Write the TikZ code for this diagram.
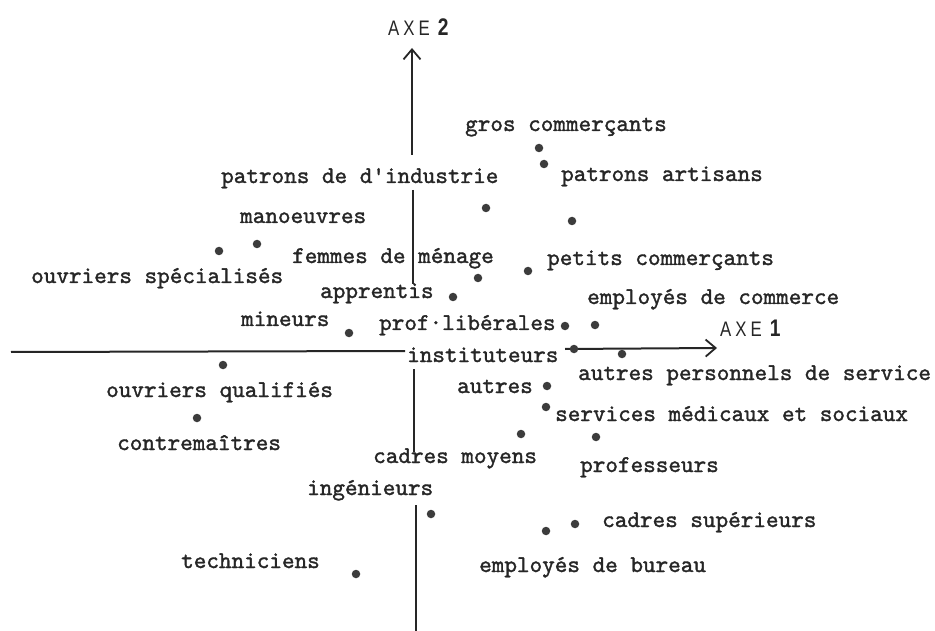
\documentclass[tikz,border=0pt]{standalone}
\usepackage{fontspec}
\usetikzlibrary{arrows.meta}
\newfontfamily\twfont{lmmono10-regular.otf}[FakeBold=1.4]
\newfontfamily\axefont{Liberation Sans}[FakeStretch=0.8]
\definecolor{ink}{HTML}{262626}
\definecolor{dotc}{HTML}{3C3C3C}
\tikzset{
  lbl/.style={anchor=base west, inner sep=0pt, text=ink, font=\twfont\fontsize{24}{24}\selectfont},
  axelbl/.style={anchor=base west, inner sep=0pt, text=ink},
  axis/.style={draw=ink, line width=2pt},
  axisarrow/.style={axis, -{Straight Barb[length=10pt,width=17pt,line width=1.8pt]}},
  pt/.style={circle, fill=dotc, inner sep=0pt, minimum size=8.5pt}
}
\begin{document}
\begin{tikzpicture}[x=1pt,y=-1pt]
\useasboundingbox[fill=white] (0,0) rectangle (935,631);
% axis coordinates
\coordinate (v1a) at (412,155); \coordinate (v1b) at (412,48);
\coordinate (v2a) at (413,190); \coordinate (v2b) at (413,284);
\coordinate (v3a) at (414,369); \coordinate (v3b) at (414,452);
\coordinate (v4a) at (416,505); \coordinate (v4b) at (416,631);
\coordinate (h1a) at (11,352);  \coordinate (h1b) at (405,351);
\coordinate (h2a) at (565,349); \coordinate (h2b) at (717,348);
\draw[axisarrow] (v1a) -- (v1b);
\draw[axis] (v2a) -- (v2b);
\draw[axis] (v3a) -- (v3b);
\draw[axis] (v4a) -- (v4b);
\draw[axis] (h1a) -- (h1b);
\draw[axisarrow] (h2a) -- (h2b);
% axis labels
\node[axelbl] (axe2) at (388,36) {\axefont\fontsize{21}{21}\selectfont A\hspace{4pt}X\hspace{4pt}E\hspace{8pt}{\bfseries\fontsize{24}{24}\selectfont 2}};
\node[axelbl] (axe1) at (720,337) {\axefont\fontsize{21}{21}\selectfont A\hspace{4pt}X\hspace{4pt}E\hspace{8pt}{\bfseries\fontsize{24}{24}\selectfont 1}};
% labels
\node[lbl] (l1)  at (465,131) {gros commerçants};
\node[lbl] (l2)  at (561,181) {patrons artisans};
\node[lbl] (l3)  at (221,183) {patrons de d'industrie};
\node[lbl] (l4)  at (240,223) {manoeuvres};
\node[lbl] (l5)  at (292,263) {femmes de ménage};
\node[lbl] (l6)  at (547,265) {petits commerçants};
\node[lbl] (l7)  at (31,283)  {ouvriers spécialisés};
\node[lbl] (l8)  at (320,298) {apprentis};
\node[lbl] (l9)  at (587,304) {employés de commerce};
\node[lbl] (l10) at (241,326) {mineurs};
\node[lbl] (l11) at (379,330) {prof·libérales};
\node[lbl] (l12) at (407,362) {instituteurs};
\node[lbl] (l13) at (578,380) {autres personnels de service};
\node[lbl] (l14) at (457,393) {autres};
\node[lbl] (l15) at (106,397) {ouvriers qualifiés};
\node[lbl] (l16) at (555,421) {services médicaux et sociaux};
\node[lbl] (l17) at (117,450) {contremaîtres};
\node[lbl] (l18) at (373,463) {cadres moyens};
\node[lbl] (l19) at (580,472) {professeurs};
\node[lbl] (l20) at (307,495) {ingénieurs};
\node[lbl] (l21) at (602,527) {cadres supérieurs};
\node[lbl] (l22) at (181,568) {techniciens};
\node[lbl] (l23) at (479,572) {employés de bureau};
% dots
\node[pt] (d1)  at (539,148) {};
\node[pt] (d2)  at (544,164) {};
\node[pt] (d3)  at (486,208) {};
\node[pt] (d4)  at (572,221) {};
\node[pt] (d5)  at (257,244) {};
\node[pt] (d6)  at (219,251) {};
\node[pt] (d7)  at (528,271) {};
\node[pt] (d8)  at (478,278) {};
\node[pt] (d9)  at (453,297) {};
\node[pt] (d10) at (349,333) {};
\node[pt] (d11) at (565,326) {};
\node[pt] (d12) at (595,325) {};
\node[pt] (d13) at (574,349) {};
\node[pt] (d14) at (622,354) {};
\node[pt] (d15) at (223,365) {};
\node[pt] (d16) at (547,386) {};
\node[pt] (d17) at (546,407) {};
\node[pt] (d18) at (197,418) {};
\node[pt] (d19) at (521,434) {};
\node[pt] (d20) at (596,437) {};
\node[pt] (d21) at (431,514) {};
\node[pt] (d22) at (546,531) {};
\node[pt] (d23) at (575,524) {};
\node[pt] (d24) at (356,574) {};
\end{tikzpicture}
\end{document}
